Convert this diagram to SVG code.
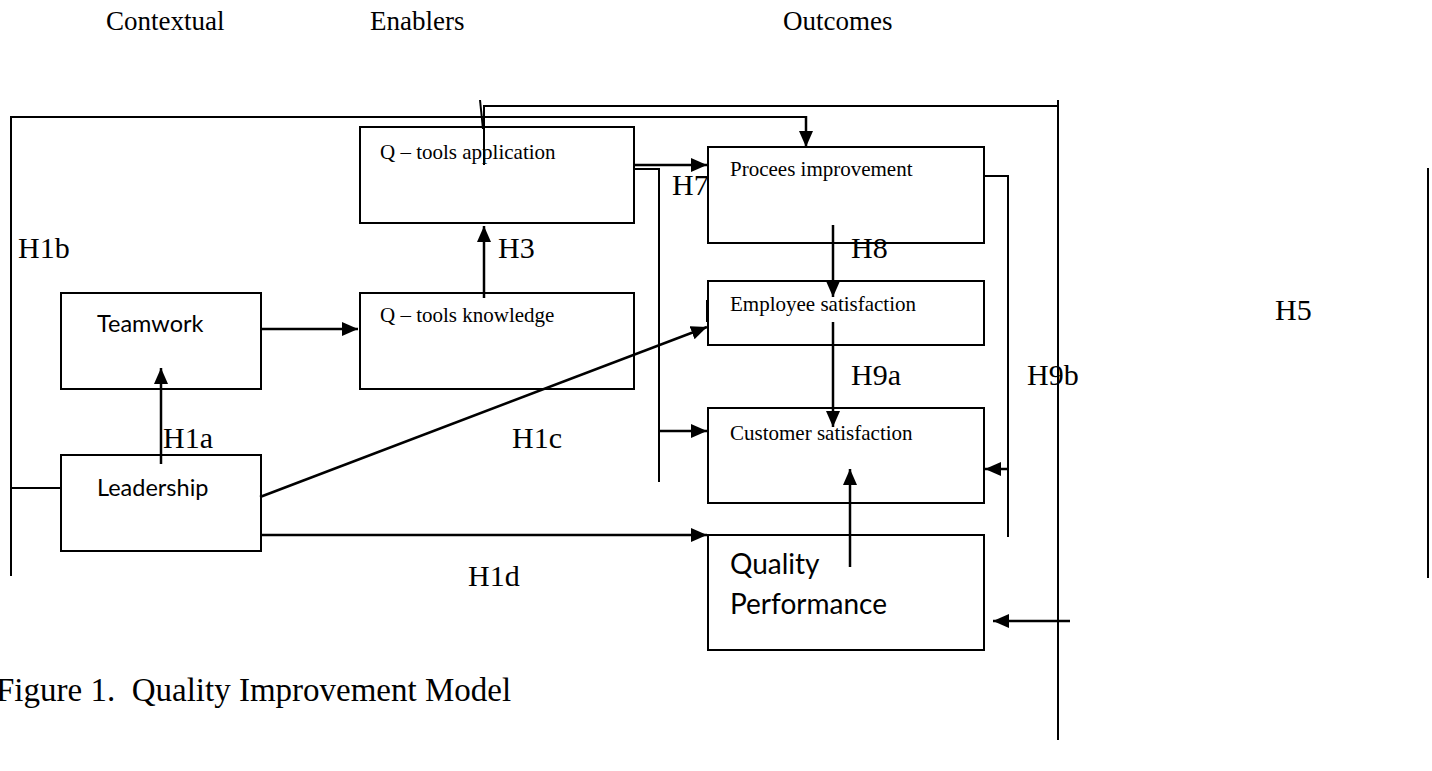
<svg xmlns="http://www.w3.org/2000/svg" width="1432" height="771" viewBox="0 0 1432 771">
<defs>
<marker id="ah" markerWidth="16" markerHeight="14" refX="16" refY="7" orient="auto" markerUnits="userSpaceOnUse">
<path d="M0,0 L16,7 L0,14 Z" fill="#000"/>
</marker>
<style>
.box{fill:#fff;stroke:#000;stroke-width:2}
.ln{fill:none;stroke:#000;stroke-width:2}
.ar{fill:none;stroke:#000;stroke-width:2.5;marker-end:url(#ah)}
.tnr{font-family:"Liberation Serif","Times New Roman",serif;fill:#000}
.hd{font-size:27px}
.lb{font-size:30px}
.bt{font-size:21px}
.cb{font-family:Lato,"Open Sans","Liberation Sans",sans-serif;font-size:23.5px;fill:#000}
.qp{font-size:28px}
</style>
</defs>
<rect width="1432" height="771" fill="#fff"/>
<g id="headers" class="tnr hd">
<text x="106" y="30">Contextual</text>
<text x="370" y="30">Enablers</text>
<text x="783" y="30">Outcomes</text>
</g>
<g id="node-qtools-application"><rect class="box" x="360" y="127" width="274" height="96"/><text class="tnr bt" x="380" y="159">Q – tools application</text></g>
<g id="node-process-improvement"><rect class="box" x="708" y="147" width="276" height="96"/><text class="tnr bt" x="730" y="176">Procees improvement</text></g>
<g id="node-teamwork"><rect class="box" x="61" y="293" width="200" height="96"/><text class="cb" x="97" y="332">Teamwork</text></g>
<g id="node-qtools-knowledge"><rect class="box" x="360" y="293" width="274" height="96"/><text class="tnr bt" x="380" y="322">Q – tools knowledge</text></g>
<g id="node-employee-satisfaction"><rect class="box" x="708" y="281" width="276" height="64"/><text class="tnr bt" x="730" y="311">Employee satisfaction</text></g>
<g id="node-customer-satisfaction"><rect class="box" x="708" y="408" width="276" height="95"/><text class="tnr bt" x="730" y="440">Customer satisfaction</text></g>
<g id="node-leadership"><rect class="box" x="61" y="455" width="200" height="96"/><text class="cb" x="97" y="496">Leadership</text></g>
<g id="node-quality-performance"><rect class="box" x="708" y="535" width="276" height="115"/><text class="cb qp" x="730" y="574">Quality</text><text class="cb qp" x="730" y="614">Performance</text></g>
<g id="connectors">
<polyline class="ln" points="11,576 11,117 806,117"/>
<line class="ar" x1="806" y1="116" x2="806" y2="147"/>
<line class="ln" x1="11" y1="488" x2="61" y2="488"/>
<polyline class="ln" points="484,165 484,106 1058,106"/>
<line class="ln" x1="480" y1="100" x2="483" y2="129"/>
<line class="ln" x1="1058" y1="100" x2="1058" y2="740"/>
<line class="ln" x1="1428" y1="168" x2="1428" y2="578"/>
<line class="ar" x1="484" y1="298" x2="484" y2="226"/>
<line class="ar" x1="634" y1="165" x2="707" y2="165"/>
<polyline class="ln" points="634,169 659,169 659,482"/>
<line class="ar" x1="659" y1="431" x2="707" y2="431"/>
<line class="ar" x1="833" y1="225" x2="833" y2="297"/>
<line class="ar" x1="833" y1="322" x2="833" y2="427"/>
<polyline class="ln" points="984,176 1008,176 1008,537"/>
<line class="ar" x1="1008" y1="469" x2="985" y2="469"/>
<line class="ar" x1="1070" y1="621" x2="993" y2="621"/>
<line class="ar" x1="850" y1="567" x2="850" y2="469"/>
<line class="ar" x1="161" y1="464" x2="161" y2="368"/>
<line class="ar" x1="261" y1="329" x2="358" y2="329"/>
<line class="ar" x1="260" y1="497" x2="707" y2="327"/>
<line class="ar" x1="261" y1="535" x2="707" y2="535"/>
<line class="ln" x1="707" y1="300" x2="707" y2="322" stroke-width="1"/>
</g>
<g id="labels" class="tnr lb">
<text x="18" y="258">H1b</text>
<text x="498" y="258">H3</text>
<text x="672" y="195">H7</text>
<text x="851" y="258">H8</text>
<text x="851" y="385">H9a</text>
<text x="1027" y="385">H9b</text>
<text x="1275" y="320">H5</text>
<text x="163" y="448">H1a</text>
<text x="512" y="448">H1c</text>
<text x="468" y="586">H1d</text>
</g>
<text class="tnr" x="-4" y="701" font-size="33px" xml:space="preserve">Figure 1.  Quality Improvement Model</text>
</svg>
